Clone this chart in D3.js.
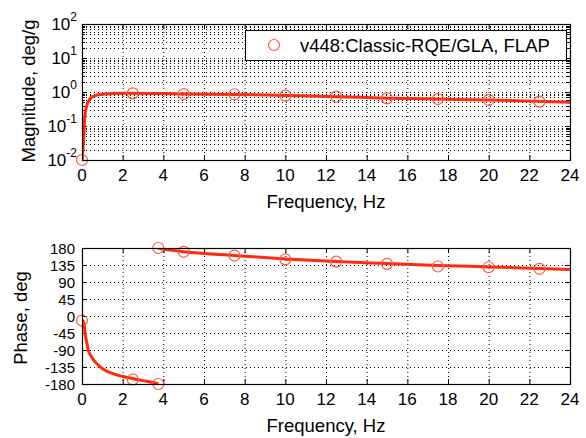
<!DOCTYPE html>
<html><head><meta charset="utf-8">
<script src="https://cdn.jsdelivr.net/npm/d3@7"></script>
<style>
body{margin:0;background:#fff;}
text{font-family:"Liberation Sans",Arial,Helvetica,sans-serif;fill:#000;}
</style></head>
<body>
<svg id="c" width="586" height="438"></svg>
<script>
// ---- data ----
const xTicks = [0,2,4,6,8,10,12,14,16,18,20,22,24];
const magTickExps = [-2,-1,0,1,2];
const phaseTicks = [-180,-135,-90,-45,0,45,90,135,180];
const legendLabel = "v448:Classic-RQE/GLA, FLAP";

// fitted magnitude line
const magLineFreq = [0,0.05,0.1,0.13,0.21,0.38,0.62,1.1,2.1,5,7.5,10,12.5,15,17.5,20,22.5,24];
const magLineVal  = [0.01,0.022,0.06,0.17,0.35,0.62,0.78,0.87,0.92,0.88,0.85,0.79,0.73,0.66,0.62,0.58,0.53,0.50];
// measured magnitude points
const magPtFreq = [0,2.5,5,7.5,10,12.5,15,17.5,20,22.5];
const magPtVal  = [0.01,0.91,0.87,0.86,0.78,0.73,0.65,0.62,0.58,0.52];

// fitted phase line (two branches, wrapped)
const phaseLowFreq = [0,0.1,0.15,0.23,0.31,0.48,0.72,1.05,1.54,2.0,2.52,3.0,3.5,3.75];
const phaseLowVal  = [-10,-20,-45,-69,-90,-109,-126,-141,-153,-160,-166,-171,-176,-179];
const phaseHighFreq = [3.75,5,7.5,10,12.5,15,17.5,20,22.5,24];
const phaseHighVal  = [179,170,160,151,144,139,134,130,126,123];
// measured phase points
const phasePtFreq = [0,2.5,3.75,3.75,5,7.5,10,12.5,15,17.5,20,22.5];
const phasePtVal  = [-12,-168,-180,180,170,160,150,144,138,131,129,125];

// ---- layout ----
const svg = d3.select("#c");
const L = 82, R = 570;
const top1 = 24, bot1 = 160, top2 = 248, bot2 = 384;
const lineColor = "#ff2a10", markColor = "#ff5a40";
const tickFont = 17, phTickFont = 15, labelFont = 18.5;

const x = d3.scaleLinear().domain([0,24]).range([L,R]);
const yMag = d3.scaleLog().domain([1e-2,1e2]).range([bot1,top1]);
const yPh = d3.scaleLinear().domain([-180,180]).range([bot2,top2]);

function frame(top, bot){
  svg.append("g").selectAll("line").data(xTicks.slice(1,-1)).join("line")
    .attr("x1",d=>x(d)+0.5).attr("x2",d=>x(d)+0.5).attr("y1",top).attr("y2",bot)
    .attr("stroke","#000").attr("stroke-width",1).attr("stroke-dasharray","1,3");
  const g = svg.append("g");
  g.selectAll("l1").data(xTicks).join("line")
    .attr("x1",d=>x(d)+0.5).attr("x2",d=>x(d)+0.5).attr("y1",bot).attr("y2",bot-5)
    .attr("stroke","#000");
  g.selectAll("l2").data(xTicks).join("line")
    .attr("x1",d=>x(d)+0.5).attr("x2",d=>x(d)+0.5).attr("y1",top).attr("y2",top+5)
    .attr("stroke","#000");
  svg.append("g").selectAll("text").data(xTicks).join("text")
    .attr("x",d=>x(d)).attr("y",bot+21).attr("text-anchor","middle")
    .attr("font-size",tickFont).text(d=>d);
  svg.append("text").attr("x",(L+R)/2).attr("y",bot+47.5).attr("text-anchor","middle")
    .attr("font-size",labelFont).text("Frequency, Hz");
}

// ---- magnitude panel ----
frame(top1,bot1);
const minorVals = [];
for (let e=-2;e<2;e++) for (let k=2;k<=9;k++) minorVals.push(k*Math.pow(10,e));
const majorVals = magTickExps.map(e=>Math.pow(10,e));
svg.append("g").selectAll("line").data(minorVals.concat(majorVals.slice(1,-1))).join("line")
  .attr("x1",L).attr("x2",R).attr("y1",d=>Math.round(yMag(d))+0.5).attr("y2",d=>Math.round(yMag(d))+0.5)
  .attr("stroke","#000").attr("stroke-width",1).attr("stroke-dasharray","1,3");
svg.append("g").selectAll("line").data(majorVals).join("line")
  .attr("x1",L).attr("x2",L+5).attr("y1",d=>Math.round(yMag(d))+0.5).attr("y2",d=>Math.round(yMag(d))+0.5).attr("stroke","#000");
svg.append("g").selectAll("line").data(majorVals).join("line")
  .attr("x1",R).attr("x2",R-5).attr("y1",d=>Math.round(yMag(d))+0.5).attr("y2",d=>Math.round(yMag(d))+0.5).attr("stroke","#000");
svg.append("g").selectAll("line").data(minorVals).join("line")
  .attr("x1",L).attr("x2",L+3).attr("y1",d=>Math.round(yMag(d))+0.5).attr("y2",d=>Math.round(yMag(d))+0.5).attr("stroke","#000");
svg.append("g").selectAll("line").data(minorVals).join("line")
  .attr("x1",R).attr("x2",R-3).attr("y1",d=>Math.round(yMag(d))+0.5).attr("y2",d=>Math.round(yMag(d))+0.5).attr("stroke","#000");
const yl = svg.append("g").selectAll("text").data(magTickExps).join("text")
  .attr("x",77).attr("y",d=>yMag(Math.pow(10,d))+6).attr("text-anchor","end").attr("font-size",tickFont);
yl.append("tspan").text("10");
yl.append("tspan").attr("dy",-9).attr("font-size",12).text(d=>d);

svg.append("text").attr("transform","translate(35,91) rotate(-90)").attr("text-anchor","middle")
  .attr("font-size",labelFont).text("Magnitude, deg/g");

svg.append("clipPath").attr("id","cp1").append("rect").attr("x",L).attr("y",top1).attr("width",R-L).attr("height",bot1-top1);
svg.append("clipPath").attr("id","cp2").append("rect").attr("x",L).attr("y",top2).attr("width",R-L).attr("height",bot2-top2);

const magLine = d3.line().x(d=>x(d[0])).y(d=>yMag(d[1])).curve(d3.curveMonotoneX);
svg.append("path").datum(magLineFreq.map((f,i)=>[f,magLineVal[i]]))
  .attr("d",magLine).attr("fill","none").attr("stroke",lineColor).attr("stroke-width",3)
  .attr("clip-path","url(#cp1)");
svg.append("g").selectAll("circle").data(magPtFreq.map((f,i)=>[f,magPtVal[i]])).join("circle")
  .attr("cx",d=>x(d[0])).attr("cy",d=>yMag(d[1])).attr("r",5.5)
  .attr("fill","none").attr("stroke",markColor).attr("stroke-width",1.2);

// legend
svg.append("rect").attr("x",245.5).attr("y",30.5).attr("width",321).attr("height",30)
  .attr("fill","#fff").attr("stroke","#000");
svg.append("circle").attr("cx",274).attr("cy",45).attr("r",5.5).attr("fill","none")
  .attr("stroke",markColor).attr("stroke-width",1.2);
svg.append("text").attr("x",300).attr("y",52).attr("font-size",labelFont).text(legendLabel);

svg.append("rect").attr("x",L+0.5).attr("y",top1+0.5).attr("width",R-L).attr("height",bot1-top1)
  .attr("fill","none").attr("stroke","#000").attr("stroke-width",1.2);

// ---- phase panel ----
frame(top2,bot2);
svg.append("g").selectAll("line").data(phaseTicks.slice(1,-1)).join("line")
  .attr("x1",L).attr("x2",R).attr("y1",d=>Math.round(yPh(d))+0.5).attr("y2",d=>Math.round(yPh(d))+0.5)
  .attr("stroke","#000").attr("stroke-width",1).attr("stroke-dasharray","1,3");
svg.append("g").selectAll("line").data(phaseTicks).join("line")
  .attr("x1",L).attr("x2",L+5).attr("y1",d=>Math.round(yPh(d))+0.5).attr("y2",d=>Math.round(yPh(d))+0.5).attr("stroke","#000");
svg.append("g").selectAll("line").data(phaseTicks).join("line")
  .attr("x1",R).attr("x2",R-5).attr("y1",d=>Math.round(yPh(d))+0.5).attr("y2",d=>Math.round(yPh(d))+0.5).attr("stroke","#000");
svg.append("g").selectAll("text").data(phaseTicks).join("text")
  .attr("x",75).attr("y",d=>yPh(d)+5.5).attr("text-anchor","end").attr("font-size",phTickFont).text(d=>d);
svg.append("text").attr("transform","translate(27,318) rotate(-90)").attr("text-anchor","middle")
  .attr("font-size",labelFont).text("Phase, deg");

const phLine = d3.line().x(d=>x(d[0])).y(d=>yPh(d[1])).curve(d3.curveMonotoneX);
svg.append("path").datum(phaseLowFreq.map((f,i)=>[f,phaseLowVal[i]]))
  .attr("d",phLine).attr("fill","none").attr("stroke",lineColor).attr("stroke-width",3).attr("clip-path","url(#cp2)");
svg.append("path").datum(phaseHighFreq.map((f,i)=>[f,phaseHighVal[i]]))
  .attr("d",phLine).attr("fill","none").attr("stroke",lineColor).attr("stroke-width",3).attr("clip-path","url(#cp2)");
svg.append("g").selectAll("circle").data(phasePtFreq.map((f,i)=>[f,phasePtVal[i]])).join("circle")
  .attr("cx",d=>x(d[0])).attr("cy",d=>yPh(d[1])).attr("r",5.5)
  .attr("fill","none").attr("stroke",markColor).attr("stroke-width",1.2);

svg.append("rect").attr("x",L+0.5).attr("y",top2+0.5).attr("width",R-L).attr("height",bot2-top2)
  .attr("fill","none").attr("stroke","#000").attr("stroke-width",1.2);
</script>
</body></html>
